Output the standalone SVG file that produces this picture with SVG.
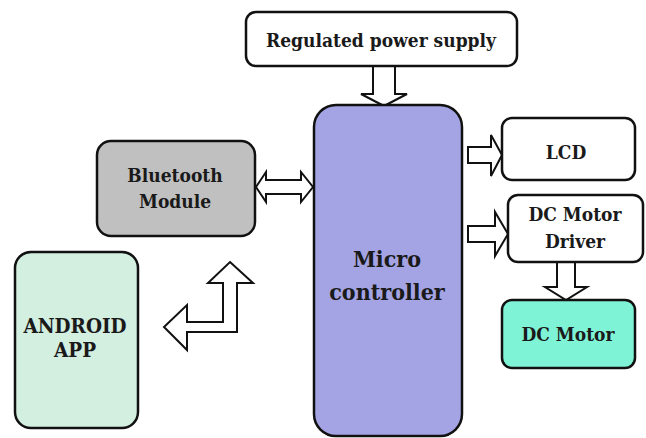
<svg xmlns="http://www.w3.org/2000/svg" width="646" height="438" viewBox="0 0 646 438">
<style>
.box{stroke:#111;stroke-width:2.5}
.arr{fill:#fff;stroke:#111;stroke-width:2;stroke-linejoin:miter}
.lbl{font-family:'DejaVu Serif Condensed','DejaVu Serif',serif;font-weight:bold;fill:#1a1a1a;text-anchor:middle}
.t18{font-size:19px}
.t20{font-size:20.5px}
.t24{font-size:23px}
</style>
<rect width="646" height="438" fill="#fff"/>
<g id="connectors">
<polygon class="arr" points="373,66 395,66 395,94 407,94 384,106 361,94 373,94"/>
<polygon class="arr" points="256,187 266,172 266,180 301,180 301,172 313,187 301,202 301,194 266,194 266,202"/>
<polygon class="arr" points="230,262 253,283 237,283 237,332 187,332 187,350 164,327 187,305 187,322 223,322 223,283 208,283"/>
<polygon class="arr" points="468,147 491,147 491,135 502,155 491,176 491,163 468,163"/>
<polygon class="arr" points="468,226 495,226 495,212 508,234 495,256 495,242 468,242"/>
<polygon class="arr" points="557,262 575,262 575,287 587,287 566,300 545,287 557,287"/>
</g>
<g id="power">
<rect class="box" x="246" y="12" width="271" height="54" rx="10" fill="#fff"/>
<text class="lbl t18" x="381" y="47">Regulated power supply</text>
</g>
<g id="micro">
<rect class="box" x="314" y="105" width="148" height="331" rx="22" fill="#a4a4e4"/>
<text class="lbl t24" x="387" y="267">Micro</text>
<text class="lbl t24" x="387" y="300">controller</text>
</g>
<g id="bluetooth">
<rect class="box" x="97" y="141" width="158" height="95" rx="14" fill="#c0c0c0"/>
<text class="lbl t18" x="175" y="182">Bluetooth</text>
<text class="lbl t18" x="175" y="208">Module</text>
</g>
<g id="android">
<rect class="box" x="15" y="252" width="123" height="176" rx="16" fill="#d2efe0"/>
<text class="lbl t20" x="75" y="333">ANDROID</text>
<text class="lbl t20" x="75" y="357">APP</text>
</g>
<g id="lcd">
<rect class="box" x="502" y="118" width="133" height="62" rx="10" fill="#fff"/>
<text class="lbl t18" x="566" y="159">LCD</text>
</g>
<g id="driver">
<rect class="box" x="508" y="195" width="135" height="67" rx="10" fill="#fff"/>
<text class="lbl t18" x="575" y="221">DC Motor</text>
<text class="lbl t18" x="575" y="248">Driver</text>
</g>
<g id="motor">
<rect class="box" x="502" y="300" width="133" height="68" rx="10" fill="#7ff3d6"/>
<text class="lbl t18" x="568" y="341">DC Motor</text>
</g>
</svg>
